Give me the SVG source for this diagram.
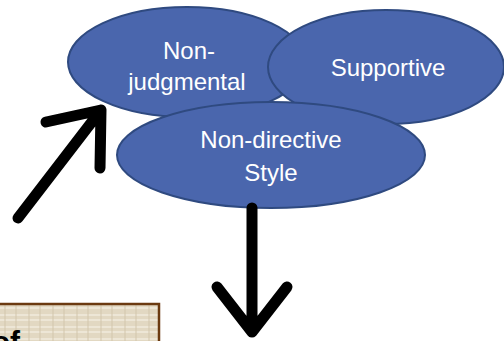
<svg xmlns="http://www.w3.org/2000/svg" width="504" height="341" viewBox="0 0 504 341">
<defs>
<style>
.node{fill:#4a66ad;stroke:#2f4a80;stroke-width:2}
.lbl{font-family:"Liberation Sans",Arial,sans-serif;font-size:24px;fill:#ffffff;text-anchor:middle}
.arr{fill:none;stroke:#000000;stroke-width:11;stroke-linecap:round;stroke-linejoin:round}
</style>
<pattern id="tex" width="24" height="12" patternUnits="userSpaceOnUse">
<rect width="24" height="12" fill="#e2d8c2"/>
<path d="M0 3H24M0 8H24" stroke="#f1ebdd" stroke-width="1.5"/>
<path d="M5 0V12M16 0V12" stroke="#d3c7ad" stroke-width="1"/>
</pattern>
</defs>
<g id="box">
<rect x="-4" y="304" width="163" height="45" fill="url(#tex)" stroke="#6b3a10" stroke-width="2.5"/>
<text x="20" y="352" font-family="'Liberation Sans',Arial,sans-serif" font-size="30" font-weight="bold" text-anchor="end" fill="#000">of</text>
</g>
<g id="nonjudgmental">
<ellipse class="node" cx="187" cy="62" rx="119" ry="55"/>
<text class="lbl" x="189" y="59">Non-</text>
<text class="lbl" x="187" y="90">judgmental</text>
</g>
<g id="supportive">
<ellipse class="node" cx="386" cy="67" rx="118" ry="57"/>
<text class="lbl" x="388" y="76">Supportive</text>
</g>
<g id="nondirective">
<ellipse class="node" cx="271" cy="155" rx="154" ry="53"/>
<text class="lbl" x="271" y="148">Non-directive</text>
<text class="lbl" x="271" y="181">Style</text>
</g>
<g id="connectors">
<path class="arr" d="M18 218L101 110M46 122L101 110L100 168"/>
<path class="arr" d="M252 208V332M217 287L252 332L287 287" stroke-linecap="butt"/>
</g>
</svg>
